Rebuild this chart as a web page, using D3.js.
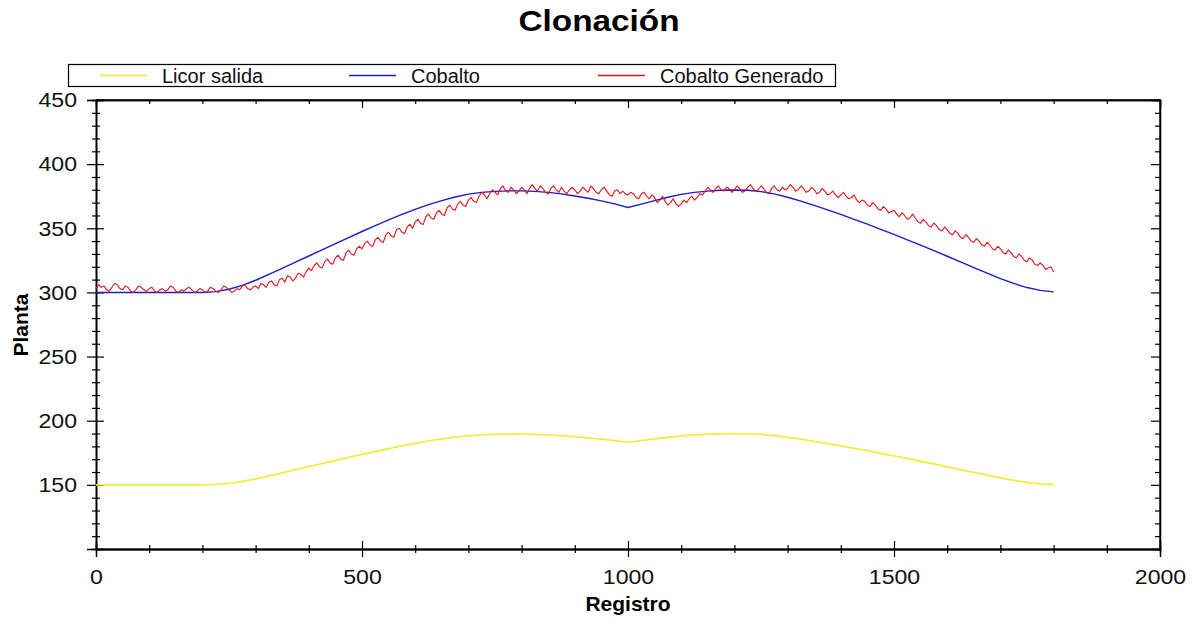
<!DOCTYPE html>
<html>
<head>
<meta charset="utf-8">
<script src="https://cdn.jsdelivr.net/npm/d3@7"></script>
<style>
  html, body { margin: 0; padding: 0; background: #fff; }
  svg { display: block; font-family: "Liberation Sans", Arial, sans-serif; }
</style>
</head>
<body>
<svg id="chart" width="1199" height="626"></svg>
<script>
// Registro step between consecutive samples of each series
const stepSuave = 25;   // Licor salida, Cobalto
const stepRuido = 5;    // Cobalto Generado

const licorSalida = [
  150, 150, 150, 150, 150, 150, 150, 150, 150, 150.3,
  151.2, 152.7, 154.7, 157, 159.4, 161.8, 164.2, 166.6, 169, 171.4,
  173.8, 176, 178.2, 180.4, 182.4, 184.2, 185.8, 187.2, 188.3, 189,
  189.4, 189.6, 189.6, 189.4, 189, 188.4, 187.6, 186.7, 185.7, 184.5,
  183.1, 184.4, 185.8, 187.1, 188.2, 189, 189.5, 189.8, 189.9, 189.8,
  189.3, 188.4, 187.1, 185.6, 183.9, 182.2, 180.4, 178.5, 176.6, 174.6,
  172.6, 170.5, 168.4, 166.3, 164.1, 161.9, 159.7, 157.5, 155.4, 153.5,
  151.9, 150.8, 150.2
];

const cobalto = [
  300, 300, 300, 300, 300, 300, 300, 300, 300, 300.6,
  302.5, 305.5, 309.5, 314, 318.8, 323.6, 328.4, 333.2, 338, 342.8,
  347.5, 352, 356.5, 360.8, 364.8, 368.4, 371.6, 374.4, 376.6, 378,
  378.8, 379.2, 379.2, 378.8, 378, 376.8, 375.2, 373.4, 371.4, 369,
  366.2, 368.8, 371.6, 374.2, 376.4, 378, 379, 379.6, 379.8, 379.6,
  378.6, 376.8, 374.2, 371.2, 367.8, 364.4, 360.8, 357, 353.2, 349.2,
  345.2, 341, 336.8, 332.6, 328.2, 323.8, 319.4, 315, 310.8, 307,
  303.8, 301.6, 300.4
];

const cobaltoGenerado = [
  303, 306, 304, 305, 302, 301, 304, 307, 306, 303, 302, 305, 304, 301, 300, 302, 305, 304, 302, 301,
  303, 304, 301, 300, 302, 303, 301, 302, 305, 304, 301, 300, 302, 301, 303, 304, 302, 300, 301, 303,
  302, 300, 301, 304, 303, 301, 300, 302, 305, 304, 302, 300, 301, 303, 302, 305, 306, 303, 302, 304,
  305, 303, 307, 306, 304, 308, 309, 306, 305, 310, 311, 308, 313, 312, 309, 311, 315, 314, 312, 316,
  319, 317, 321, 323, 320, 319, 324, 326, 323, 322, 327, 329, 326, 325, 331, 333, 330, 329, 334, 336,
  334, 338, 340, 337, 336, 341, 343, 340, 339, 345, 347, 344, 343, 349, 350, 347, 346, 351, 353, 350,
  355, 357, 354, 353, 359, 361, 358, 357, 362, 364, 361, 360, 366, 368, 365, 364, 369, 371, 368, 367,
  372, 374, 371, 370, 375, 378, 376, 373, 377, 380, 378, 376, 381, 383, 379, 378, 382, 380, 377, 379,
  382, 380, 377, 381, 384, 381, 379, 383, 381, 378, 377, 381, 383, 380, 378, 382, 379, 377, 380, 382,
  380, 377, 379, 382, 380, 378, 383, 381, 378, 377, 380, 382, 379, 376, 375, 379, 380, 377, 379, 377,
  376, 378, 377, 374, 373, 377, 378, 375, 373, 376, 374, 370, 372, 375, 371, 368, 370, 373, 369, 367,
  369, 372, 370, 373, 375, 372, 374, 377, 376, 379, 382, 380, 378, 381, 383, 380, 379, 382, 381, 378,
  380, 383, 381, 378, 379, 382, 384, 381, 379, 380, 383, 381, 378, 377, 381, 383, 380, 379, 382, 380,
  381, 384, 382, 379, 380, 383, 381, 378, 379, 382, 380, 377, 378, 381, 379, 376, 377, 379, 376, 374,
  376, 378, 375, 373, 374, 376, 372, 370, 372, 371, 368, 367, 370, 368, 365, 364, 367, 365, 362, 363,
  364, 361, 359, 362, 360, 357, 358, 361, 358, 355, 354, 357, 355, 352, 351, 354, 352, 349, 348, 351,
  349, 346, 345, 348, 346, 343, 342, 345, 343, 340, 339, 342, 340, 337, 336, 339, 337, 334, 333, 336,
  334, 331, 330, 333, 331, 328, 327, 330, 328, 325, 324, 327, 325, 322, 321, 323, 321, 318, 319, 320,
  316
];

const xTicksMajor = [0, 500, 1000, 1500, 2000];
const yTicksMajor = [150, 200, 250, 300, 350, 400, 450];

const seriesNames = ["Licor salida", "Cobalto", "Cobalto Generado"];
const seriesColors = ["#f0f03c", "#1c1cc8", "#e0141c"];

const svg = d3.select("#chart");

const x = d3.scaleLinear().domain([0, 2000]).range([96, 1160]);
const y = d3.scaleLinear().domain([100, 450]).range([549, 100]);

const xMinor = d3.range(0, 2001, 100).filter(v => v % 500 !== 0);
const yMinor = d3.range(110, 451, 10).filter(v => v % 50 !== 0);

// Widen a text element horizontally around its anchor point
function stretch(sel, sx) {
  sel.each(function () {
    const t = d3.select(this);
    const tx = +t.attr("x") || 0, ty = +t.attr("y") || 0;
    t.attr("x", 0).attr("y", 0)
     .attr("transform", `translate(${tx},${ty}) scale(${sx},1)`);
  });
}

// Frame: top and right sides
svg.append("line").attr("x1", x(0)).attr("x2", x(2000)).attr("y1", y(450)).attr("y2", y(450))
  .attr("stroke", "#000").attr("stroke-width", 1.3);
svg.append("line").attr("x1", x(2000)).attr("x2", x(2000)).attr("y1", y(450)).attr("y2", y(100))
  .attr("stroke", "#000").attr("stroke-width", 1.3);

function styleAxis(g) {
  g.selectAll("path.domain").attr("stroke", "#000").attr("stroke-width", 1.3);
  g.selectAll(".tick line").attr("stroke", "#000").attr("stroke-width", 1.2);
  g.selectAll(".tick text").attr("fill", "#111")
    .attr("font-family", "'Liberation Sans', Arial, sans-serif").style("font-size", "21px");
}

// Bottom axis: ticks crossing the line
const bottomY = y(100);
svg.append("g").attr("transform", `translate(0,${bottomY})`)
  .call(d3.axisBottom(x).tickValues(xTicksMajor).tickSize(8).tickPadding(12).tickFormat(d3.format("d")))
  .call(styleAxis)
  .call(g => stretch(g.selectAll(".tick text"), 1.1));
svg.append("g").attr("transform", `translate(0,${bottomY})`)
  .call(d3.axisTop(x).tickValues(xTicksMajor).tickSize(8).tickFormat(""))
  .call(styleAxis);
svg.append("g").attr("transform", `translate(0,${bottomY})`)
  .call(d3.axisBottom(x).tickValues(xMinor).tickSize(4).tickFormat(""))
  .call(styleAxis);
svg.append("g").attr("transform", `translate(0,${bottomY})`)
  .call(d3.axisTop(x).tickValues(xMinor).tickSize(4).tickFormat(""))
  .call(styleAxis);

// Top axis: ticks pointing inward
svg.append("g").attr("transform", `translate(0,${y(450)})`)
  .call(d3.axisBottom(x).tickValues(xTicksMajor).tickSize(8).tickFormat(""))
  .call(styleAxis);
svg.append("g").attr("transform", `translate(0,${y(450)})`)
  .call(d3.axisBottom(x).tickValues(xMinor).tickSize(4).tickFormat(""))
  .call(styleAxis);

// Left axis: ticks crossing the line
const leftX = x(0);
svg.append("g").attr("transform", `translate(${leftX},0)`)
  .call(d3.axisLeft(y).tickValues(yTicksMajor).tickSize(9).tickPadding(10))
  .call(styleAxis)
  .call(g => stretch(g.selectAll(".tick text"), 1.1));
svg.append("g").attr("transform", `translate(${leftX},0)`)
  .call(d3.axisRight(y).tickValues(yTicksMajor).tickSize(8).tickFormat(""))
  .call(styleAxis);
svg.append("g").attr("transform", `translate(${leftX},0)`)
  .call(d3.axisLeft(y).tickValues(yMinor).tickSize(4).tickFormat(""))
  .call(styleAxis);
svg.append("g").attr("transform", `translate(${leftX},0)`)
  .call(d3.axisRight(y).tickValues(yMinor).tickSize(4).tickFormat(""))
  .call(styleAxis);

// Right axis: ticks pointing inward
svg.append("g").attr("transform", `translate(${x(2000)},0)`)
  .call(d3.axisLeft(y).tickValues(yTicksMajor).tickSize(9).tickFormat(""))
  .call(styleAxis);
svg.append("g").attr("transform", `translate(${x(2000)},0)`)
  .call(d3.axisLeft(y).tickValues(yMinor).tickSize(5).tickFormat(""))
  .call(styleAxis);

// Series lines
const line = step => d3.line().x((d, i) => x(i * step)).y(d => y(d));

svg.append("path").datum(licorSalida)
  .attr("d", line(stepSuave)).attr("fill", "none")
  .attr("stroke", seriesColors[0]).attr("stroke-width", 1.8);

svg.append("path").datum(cobalto)
  .attr("d", line(stepSuave)).attr("fill", "none")
  .attr("stroke", seriesColors[1]).attr("stroke-width", 1.4);

svg.append("path").datum(cobaltoGenerado)
  .attr("d", line(stepRuido)).attr("fill", "none")
  .attr("stroke", seriesColors[2]).attr("stroke-width", 1.1)
  .attr("stroke-linejoin", "round");

// Title and axis labels
svg.append("text").attr("x", 599).attr("y", 31).attr("text-anchor", "middle")
  .style("font-size", "29px").style("font-weight", "bold").attr("fill", "#000")
  .text("Clonación")
  .call(t => stretch(t, 1.15));

svg.append("text").attr("x", 628).attr("y", 611).attr("text-anchor", "middle")
  .style("font-size", "21px").style("font-weight", "bold").attr("fill", "#000")
  .text("Registro");

svg.append("text").attr("transform", "translate(28,325) rotate(-90)").attr("text-anchor", "middle")
  .style("font-size", "21px").style("font-weight", "bold").attr("fill", "#000")
  .text("Planta");

// Legend
const legend = svg.append("g");
legend.append("rect").attr("x", 68.5).attr("y", 64.5).attr("width", 767).attr("height", 22)
  .attr("fill", "#fff").attr("stroke", "#000").attr("stroke-width", 1.2);
const legendLineX = [100, 349, 598];
seriesNames.forEach((name, i) => {
  const lx = legendLineX[i];
  legend.append("line").attr("x1", lx).attr("x2", lx + 47).attr("y1", 75.5).attr("y2", 75.5)
    .attr("stroke", seriesColors[i]).attr("stroke-width", 1.5);
  legend.append("text").attr("x", lx + 62).attr("y", 82.5)
    .style("font-size", "20px").attr("fill", "#111").text(name);
});
</script>
</body>
</html>
